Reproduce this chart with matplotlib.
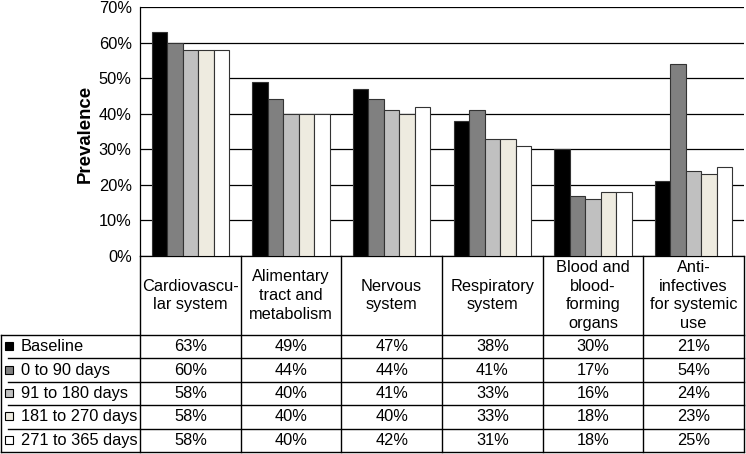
import matplotlib.pyplot as plt
import numpy as np

plt.rcParams['font.family'] = ['Liberation Sans', 'DejaVu Sans']

# data
categories = ["Cardiovascu-\nlar system", "Alimentary\ntract and\nmetabolism",
              "Nervous\nsystem", "Respiratory\nsystem",
              "Blood and\nblood-\nforming\norgans", "Anti-\ninfectives\nfor systemic\nuse"]
series_names = ["Baseline", "0 to 90 days", "91 to 180 days",
                "181 to 270 days", "271 to 365 days"]
baseline = [63, 49, 47, 38, 30, 21]
days_0_90 = [60, 44, 44, 41, 17, 54]
days_91_180 = [58, 40, 41, 33, 16, 24]
days_181_270 = [58, 40, 40, 33, 18, 23]
days_271_365 = [58, 40, 42, 31, 18, 25]
series = [baseline, days_0_90, days_91_180, days_181_270, days_271_365]
colors = ["#000000", "#808080", "#c0c0c0", "#eeebe0", "#ffffff"]

FS = 11.8
W, H = 746, 454
fig = plt.figure(figsize=(W / 100, H / 100), dpi=100)

# pixel layout
x0, x1 = 140, 744
y_top, y_zero = 7, 256
ax = fig.add_axes([x0 / W, 1 - y_zero / H, (x1 - x0) / W, (y_zero - y_top) / H])

n = len(categories)
w = 0.154
x = np.arange(n)
for j, vals in enumerate(series):
    ax.bar(x + (j - 2) * w, vals, width=w, color=colors[j],
           edgecolor="#333333", linewidth=0.8, zorder=3)

ax.set_xlim(-0.5, n - 0.5)
ax.set_ylim(0, 70)
ax.set_yticks(range(0, 71, 10))
ax.set_yticklabels([f"{v}%" for v in range(0, 71, 10)], fontsize=FS)
ax.yaxis.grid(True, color="black", linewidth=0.9, zorder=0)
ax.set_xticks([])
ax.tick_params(axis="y", length=0, pad=6)
for s in ["top", "right"]:
    ax.spines[s].set_visible(False)
ax.spines["left"].set_linewidth(0.9)
ax.spines["bottom"].set_linewidth(0.9)
fig.text(85 / W, 1 - 134 / H, "Prevalence", rotation=90, ha="center",
         va="center", fontsize=13.4, fontweight="bold")

# data table drawn in pixel coordinates
tb = fig.add_axes([0, 0, 1, 1], zorder=5)
tb.set_xlim(0, W)
tb.set_ylim(H, 0)
tb.axis("off")
tb.patch.set_alpha(0)

col_w = (x1 - x0) / n
header_bottom = 335
row_h = 23.4
bottom = header_bottom + row_h * len(series)
lw = 1.0

# vertical lines
for i in range(n + 1):
    xx = x0 + i * col_w
    tb.plot([xx, xx], [y_zero, bottom], color="black", lw=lw)
tb.plot([1, 1], [header_bottom, bottom], color="black", lw=lw)
# horizontal lines
tb.plot([1, x1], [header_bottom, header_bottom], color="black", lw=lw)
tb.plot([1, x1], [bottom, bottom], color="black", lw=lw)
for r in range(1, len(series)):
    yy = header_bottom + r * row_h
    tb.plot([8, x1], [yy, yy], color="black", lw=lw)

# header text
for i, cat in enumerate(categories):
    tb.text(x0 + (i + 0.5) * col_w, 295.5, cat, ha="center", va="center",
            fontsize=FS, linespacing=1.32)

# rows
for r, (name, vals) in enumerate(zip(series_names, series)):
    yc = header_bottom + (r + 0.5) * row_h
    tb.add_patch(plt.Rectangle((5, yc - 4.5), 8, 8, facecolor=colors[r],
                               edgecolor="black", lw=0.8))
    tb.text(21, yc, name, ha="left", va="center", fontsize=FS)
    for i, v in enumerate(vals):
        tb.text(x0 + (i + 0.5) * col_w, yc, f"{v}%", ha="center",
                va="center", fontsize=FS)

fig.savefig("out.png", dpi=100)
